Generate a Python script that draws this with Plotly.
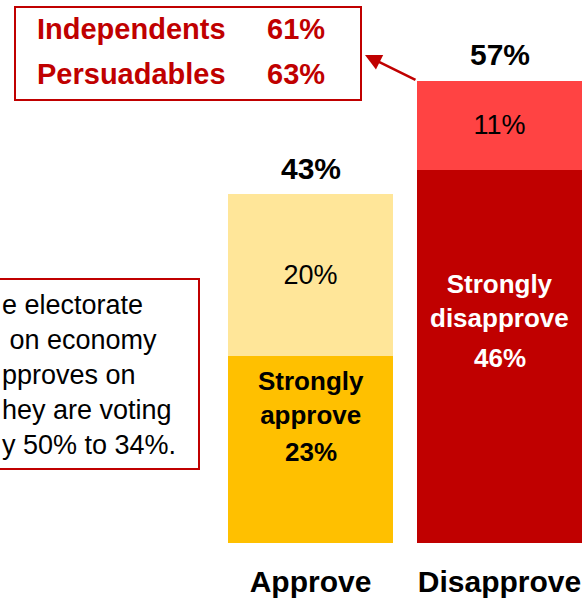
import plotly.graph_objects as go

# ---- data ----
categories = ["Approve", "Disapprove"]
strong_values = [23, 46]
other_values = [20, 11]
strong_labels = ["Strongly<br>approve", "Strongly<br>disapprove"]
group_names = ["Independents", "Persuadables"]
group_values = [61, 63]
note_lines = ["e electorate", "\u00a0on economy", "pproves on", "hey are voting", "y 50% to 34%."]

totals = [s + o for s, o in zip(strong_values, other_values)]

# ---- layout helpers ----
W, H = 588, 598
MB = 55
PH = H - MB
PX_PER_UNIT = 8.11
BAR_SPACING = 189.0
FIRST_CENTER = 310.5
BAR_W = 165 / BAR_SPACING
FONT = "Liberation Sans, Arial, sans-serif"
RED = "#C00000"


def xp(px):
    return px / W


def yp(py):
    return (PH - py) / PH


strong_colors = ["#FFC000", "#C00000"]
other_colors = ["#FFE699", "#FF4343"]
strong_text_colors = ["black", "white"]

fig = go.Figure()
fig.add_trace(go.Bar(
    x=categories, y=strong_values, width=BAR_W,
    marker=dict(color=strong_colors, line=dict(width=0)),
    hoverinfo="skip",
))
fig.add_trace(go.Bar(
    x=categories, y=other_values, width=BAR_W,
    marker=dict(color=other_colors, line=dict(width=0)),
    text=[f"{v}%" for v in other_values],
    textposition="inside", insidetextanchor="middle", textangle=0,
    textfont=dict(family=FONT, size=27, color="black"),
    hoverinfo="skip",
))

annotations = []
# totals above bars
for c, t in zip(categories, totals):
    annotations.append(dict(
        x=c, y=t, xref="x", yref="y", text=f"<b>{t}%</b>", showarrow=False,
        yanchor="middle", yshift=26,
        font=dict(family=FONT, size=30, color="black"),
    ))

# strong labels inside bottom segments
label_centers_py = [398, 301]
value_centers_py = [452, 358]
for i, c in enumerate(categories):
    annotations.append(dict(
        x=c, y=yp(label_centers_py[i]), xref="x", yref="paper",
        text=f"<b>{strong_labels[i]}</b>", showarrow=False, yanchor="middle",
        font=dict(family=FONT, size=26, color=strong_text_colors[i]),
    ))
    annotations.append(dict(
        x=c, y=yp(value_centers_py[i]), xref="x", yref="paper",
        text=f"<b>{strong_values[i]}%</b>", showarrow=False, yanchor="middle",
        font=dict(family=FONT, size=26, color=strong_text_colors[i]),
    ))

# top-left callout box content
row_py = [29, 74]
for i, (g, v) in enumerate(zip(group_names, group_values)):
    annotations.append(dict(
        x=xp(35), y=yp(row_py[i]), xref="paper", yref="paper", text=f"<b>{g}</b>",
        showarrow=False, xanchor="left", yanchor="middle",
        font=dict(family=FONT, size=29, color=RED),
    ))
    annotations.append(dict(
        x=xp(265), y=yp(row_py[i]), xref="paper", yref="paper", text=f"<b>{v}%</b>",
        showarrow=False, xanchor="left", yanchor="middle",
        font=dict(family=FONT, size=29, color=RED),
    ))

# arrow from disapprove bar top-left corner to callout box
annotations.append(dict(
    x=(365 - FIRST_CENTER) / BAR_SPACING, y=(PH - 55) / PX_PER_UNIT, xref="x", yref="y",
    ax=1 - BAR_W / 2, ay=totals[1], axref="x", ayref="y",
    text="", showarrow=True, arrowhead=2, arrowsize=1.3, arrowwidth=2.5,
    arrowcolor=RED, standoff=0,
))

# left note box text
annotations.append(dict(
    x=xp(0), y=yp(375), xref="paper", yref="paper",
    text="<br>".join(note_lines), showarrow=False, xanchor="left", yanchor="middle",
    align="left", font=dict(family=FONT, size=27, color="black"),
))

shapes = [
    dict(type="rect", xref="paper", yref="paper", x0=xp(15), x1=xp(361), y0=yp(100), y1=yp(7),
         line=dict(color=RED, width=2), fillcolor="rgba(0,0,0,0)"),
    dict(type="rect", xref="paper", yref="paper", x0=xp(-20), x1=xp(199), y0=yp(469), y1=yp(279),
         line=dict(color=RED, width=2), fillcolor="rgba(0,0,0,0)"),
]

fig.update_layout(
    width=W, height=H, barmode="stack", showlegend=False,
    margin=dict(l=0, r=0, t=0, b=MB, pad=0, autoexpand=False),
    paper_bgcolor="white", plot_bgcolor="white",
    annotations=annotations, shapes=shapes,
    xaxis=dict(
        range=[-FIRST_CENTER / BAR_SPACING, (W - FIRST_CENTER) / BAR_SPACING],
        showgrid=False, zeroline=False, showline=False, automargin=False,
        ticks="outside", ticklen=12, tickcolor="rgba(0,0,0,0)",
        tickfont=dict(family=FONT, size=30, color="black"),
        tickvals=categories, ticktext=[f"<b>{c}</b>" for c in categories],
        fixedrange=True,
    ),
    yaxis=dict(
        range=[0, PH / PX_PER_UNIT], visible=False, fixedrange=True, automargin=False,
    ),
)

fig.write_html(
    "out.html",
    config={"displayModeBar": False},
    post_script="document.body.style.margin='0';document.body.style.overflow='hidden';",
)
